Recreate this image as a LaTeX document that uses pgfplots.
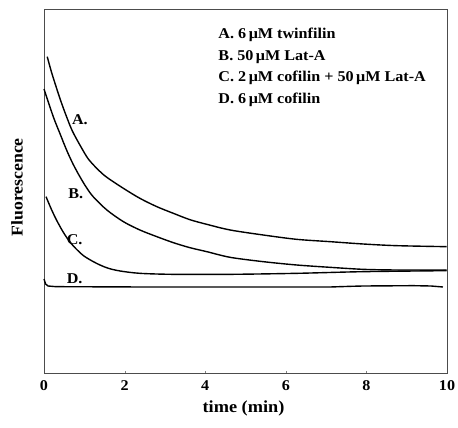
\documentclass[border=0pt]{standalone}
\usepackage{fontspec}
\setmainfont{Liberation Serif}[FakeStretch=1.08]
\usepackage{pgfplots}
\pgfplotsset{compat=1.18}
\usetikzlibrary{calc}
\tikzset{trace/.style={draw=black, mark=none, line width=1.4pt, line join=round}}

\begin{document}
\begin{tikzpicture}
\begin{axis}[
  scale only axis, width=403bp, height=364bp,
  xmin=0, xmax=10, ymin=3, ymax=1095,
  xtick={0,2,...,10}, ytick=\empty,
  tick align=inside, major tick length=2.5pt,
  xtick pos=bottom,
  axis line style={draw=black!70, line width=0.6pt},
  /pgf/number format/assume math mode=true,
  tick label style={font=\fontsize{15}{17}\selectfont\bfseries},
  xticklabel style={inner sep=1pt, yshift=-6pt},
  clip=false,
]
\coordinate (sw) at (rel axis cs:0,0);
\coordinate (ne) at (rel axis cs:1,1);
\coordinate (ml) at (rel axis cs:0,0.51);
\coordinate (bm) at (rel axis cs:0.495,0);
% A. 6 uM twinfilin
\addplot[trace, smooth, tension=0.5] coordinates {(0.08,952)(0.2,900)(0.4,825)(0.55,775)(0.7,730)(0.9,685)(1.1,645)(1.35,612)(1.56,590)(1.97,557)(2.38,527)(2.8,502)(3.21,482)(3.62,463)(4.04,449)(4.62,432)(5.44,417)(6.27,404)(7.1,397)(7.92,390)(8.75,385)(9.99,382)};
% B. 50 uM Lat-A
\addplot[trace, smooth, tension=0.5] coordinates {(0,855)(0.23,772)(0.4,720)(0.56,672)(0.72,630)(0.89,592)(1.05,560)(1.22,532)(1.56,492)(1.97,457)(2.38,432)(2.8,412)(3.21,394)(3.62,379)(4.04,367)(4.62,350)(5.44,337)(6.27,327)(7.1,320)(7.92,314)(8.75,312)(9.99,312)};
% C. 2 uM cofilin + 50 uM Lat-A
\addplot[trace, smooth, tension=0.5] coordinates {(0.05,532)(0.18,495)(0.31,462)(0.48,425)(0.65,395)(0.8,375)(0.98,355)(1.18,340)(1.39,327)(1.6,317)(1.89,309)(2.38,302)(3.21,299)(4.62,299)(6.27,302)(7.92,307)(9.99,310)};
% D. 6 uM cofilin
\addplot[trace] coordinates {(0,285)(0.04,270)(0.1,264)(0.3,262)(2.5,261)(4.78,261)(7.1,261)(7.6,263)(7.92,264)(9.16,265)(9.6,264)(9.9,261)};

\begin{scope}[font=\fontsize{15}{17}\selectfont\bfseries, anchor=base west, inner sep=0pt]
\node at (axis cs:0.69,747) {A.};
\node at (axis cs:0.60,527) {B.};
\node at (axis cs:0.56,387) {C.};
\node at (axis cs:0.56,272) {D.};
\end{scope}
\begin{scope}[font=\fontsize{15}{17}\selectfont\bfseries, anchor=base west, inner sep=0pt]
\node at (axis cs:4.325,1006) {A. 6\,μM twinfilin};
\node at (axis cs:4.325,941) {B. 50\,μM Lat-A};
\node at (axis cs:4.325,876) {C. 2\,μM cofilin + 50\,μM Lat-A};
\node at (axis cs:4.325,811) {D. 6\,μM cofilin};
\end{scope}
\end{axis}
\node[anchor=base, inner sep=0pt, font=\fontsize{17}{19}\selectfont\bfseries]
  at ([yshift=-39bp]bm) {time (min)};
\node[rotate=90, inner sep=0pt, font=\fontsize{16.5}{18}\selectfont\bfseries]
  at ([xshift=-27bp]ml) {Fluorescence};
\pgfresetboundingbox
\path ($(sw)+(-44bp,-55bp)$) rectangle ($(ne)+(11bp,9bp)$);
\end{tikzpicture}
\end{document}
